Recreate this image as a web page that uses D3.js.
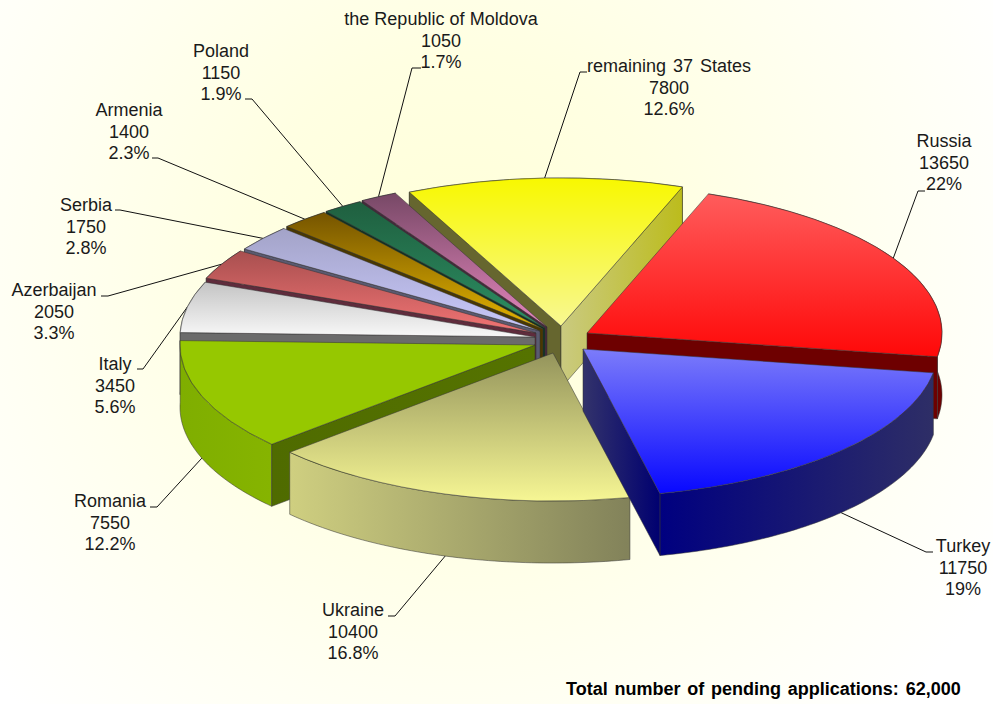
<!DOCTYPE html>
<html>
<head>
<meta charset="utf-8">
<script src="https://cdn.jsdelivr.net/npm/d3@7"></script>
<style>
  body { margin: 0; background: #fff; }
  text { font-family: "Liberation Sans", Arial, sans-serif; fill: #1a1a1a; }
</style>
</head>
<body>
<div id="chart"></div>
<script>
// data, clockwise from the Russia slice
var names = ["Russia", "Turkey", "Ukraine", "Romania", "Italy", "Azerbaijan", "Serbia", "Armenia", "Poland", "the Republic of Moldova", "remaining 37 States"];
var values = [13650, 11750, 10400, 7550, 3450, 2050, 1750, 1400, 1150, 1050, 7800];
var pctLabels = ["22%", "19%", "16.8%", "12.2%", "5.6%", "3.3%", "2.8%", "2.3%", "1.9%", "1.7%", "12.6%"];
var totalNote = "Total number of pending applications: 62,000";

// painter's order, back to front
var drawOrder = [10, 9, 8, 7, 6, 5, 4, 0, 3, 2, 1];

var width = 993, height = 704;
var center = {x: 545, y: 340};
var radius = 355, tilt = 0.417, depth = 62;

// how far each slice was pulled out of the pie (in pixels)
var explode = [[42, -7], [38, 9], [8, 13], [-10, 5], [-10, -3], [-9, -7], [-5, -9], [-2, -11], [0, -12], [2, -13], [16, -14]];

// top face, outer wall, start wall, end wall colours
var skins = [
  {top: ["#ff5c5c", "#ff0808"], outer: ["#6e0000", "#6e0000"], end: ["#6e0000", "#6e0000"]},
  {top: ["#7c7cfa", "#0808ff"], outer: ["#000080", "#2e2e66"], end: ["#33336b", "#000070"]},
  {top: ["#94945c", "#f6f694"], outer: ["#cfcf80", "#82825a"]},
  {top: ["#96c800", "#96c800"], outer: ["#7fae00", "#86b400"], start: ["#4f6b00", "#557300"]},
  {top: ["#c4c4c4", "#f8f8f8"], outer: ["#6b6b6b", "#6b6b6b"], start: ["#6b6b6b", "#6b6b6b"]},
  {top: ["#a84f4f", "#f27474"], outer: ["#5f2c3c", "#5f2c3c"], start: ["#5f2c3c", "#5f2c3c"]},
  {top: ["#a3a3c8", "#c8c8fa"], outer: ["#5a5a70", "#5a5a70"], start: ["#5a5a70", "#5a5a70"]},
  {top: ["#755400", "#e4b400"], outer: ["#4a3800", "#4a3800"], start: ["#4a3800", "#4a3800"]},
  {top: ["#1f5f3f", "#2c8f63"], outer: ["#0f3322", "#0f3322"], start: ["#0f3322", "#0f3322"]},
  {top: ["#774866", "#e486bd"], outer: ["#47283c", "#47283c"], start: ["#47283c", "#47283c"]},
  {top: ["#f8f800", "#f8f892"], outer: ["#66662f", "#66662f"], start: ["#66662f", "#66662f"], end: ["#caca80", "#bcbc1c"]}
];

// label centre x, first baseline, word gap, then the leader elbow and the stub end
var labelSpots = [
  {x: 944, y: 147, gap: 0, elbow: [918, 191], stub: [925, 191]},
  {x: 963, y: 552, gap: 0, elbow: [926, 552], stub: [933, 552]},
  {x: 353, y: 616, gap: 0, elbow: [395, 616], stub: [388, 616]},
  {x: 110, y: 507, gap: 0, elbow: [157, 507], stub: [150, 507]},
  {x: 115, y: 370, gap: 0, elbow: [143, 369], stub: [137, 369]},
  {x: 54, y: 296, gap: 0, elbow: [108, 296], stub: [101, 296]},
  {x: 86, y: 211, gap: 0, elbow: [120, 210], stub: [115, 210]},
  {x: 129, y: 116, gap: 0, elbow: [158, 158], stub: [152, 158]},
  {x: 221, y: 57, gap: 0, elbow: [252, 99], stub: [245, 99]},
  {x: 441, y: 25, gap: 0.2, elbow: [412, 68], stub: [421, 68]},
  {x: 669, y: 72, gap: 2, elbow: [580, 72], stub: [587, 72]}
];

var svg = d3.select("#chart")
  .append("svg")
    .attr("width", width)
    .attr("height", height);

var defs = svg.append("defs");

function addGradient(id, colors, vertical) {
  var g = defs.append("linearGradient")
    .attr("id", id)
    .attr("x1", 0).attr("y1", 0)
    .attr("x2", vertical ? 0 : 1).attr("y2", vertical ? 1 : 0);
  g.append("stop").attr("offset", "0%").attr("stop-color", colors[0]);
  g.append("stop").attr("offset", "100%").attr("stop-color", colors[1]);
  return "url(#" + id + ")";
}

// background glow
var glow = defs.append("radialGradient")
  .attr("id", "glow")
  .attr("gradientUnits", "userSpaceOnUse")
  .attr("cx", 460).attr("cy", 270).attr("r", 620);
glow.append("stop").attr("offset", "0%").attr("stop-color", "#ffffd8");
glow.append("stop").attr("offset", "35%").attr("stop-color", "#ffffe2");
glow.append("stop").attr("offset", "65%").attr("stop-color", "#fffff0");
glow.append("stop").attr("offset", "100%").attr("stop-color", "#ffffff");

svg.append("rect")
  .attr("width", width)
  .attr("height", height)
  .attr("fill", "url(#glow)");

// slice angles
var pie = d3.pie()
  .sort(null)
  .startAngle(20 * Math.PI / 180)
  .endAngle(380 * Math.PI / 180);
var slices = pie(values);

var rimX = d3.scaleLinear().domain([-1, 1]).range([-radius, radius]);
var rimY = d3.scaleLinear().domain([-1, 1]).range([-radius * tilt, radius * tilt]);

function apex(i) {
  return {x: center.x + explode[i][0], y: center.y + explode[i][1]};
}
function rimPoint(i, a) {
  var p = apex(i);
  return {x: p.x + rimX(Math.sin(a)), y: p.y + rimY(-Math.cos(a))};
}

var topArc = d3.arc().innerRadius(0).outerRadius(radius);
var wallArea = d3.area()
  .x(function (d) { return d.x; })
  .y0(function (d) { return d.y; })
  .y1(function (d) { return d.y + depth; });

function radialWall(i, a) {
  var p = apex(i), r = rimPoint(i, a);
  return "M" + p.x + "," + p.y + "L" + r.x + "," + r.y +
         "L" + r.x + "," + (r.y + depth) + "L" + p.x + "," + (p.y + depth) + "Z";
}

var pieGroup = svg.append("g")
  .attr("stroke", "#333")
  .attr("stroke-opacity", 0.75)
  .attr("stroke-width", 0.7)
  .attr("stroke-linejoin", "round");

// leaders sit under the slices
var leaders = svg.insert("g", "g")
  .attr("fill", "none")
  .attr("stroke", "#111")
  .attr("stroke-width", 1);

drawOrder.forEach(function (i) {
  var s = slices[i], skin = skins[i];
  var g = pieGroup.append("g");

  // outer curved wall
  var steps = d3.range(s.startAngle, s.endAngle, Math.PI / 180).concat([s.endAngle]);
  g.append("path")
    .attr("d", wallArea(steps.map(function (a) { return rimPoint(i, a); })))
    .attr("fill", addGradient("outer" + i, skin.outer));

  // the two cut faces, only those turned to the viewer
  if (Math.sin(s.startAngle) < 0 && skin.start) {
    g.append("path")
      .attr("d", radialWall(i, s.startAngle))
      .attr("fill", addGradient("start" + i, skin.start));
  }
  if (Math.sin(s.endAngle) > 0 && skin.end) {
    g.append("path")
      .attr("d", radialWall(i, s.endAngle))
      .attr("fill", addGradient("end" + i, skin.end));
  }

  // top face
  var p = apex(i);
  g.append("path")
    .attr("d", topArc({startAngle: s.startAngle, endAngle: s.endAngle}))
    .attr("transform", "translate(" + p.x + "," + p.y + ") scale(1," + tilt + ")")
    .attr("vector-effect", "non-scaling-stroke")
    .attr("fill", addGradient("top" + i, skin.top, true));
});

// leader lines and labels
slices.forEach(function (s, i) {
  var spot = labelSpots[i];
  var mid = (s.startAngle + s.endAngle) / 2;
  var r = rimPoint(i, mid);
  var front = Math.cos(mid) < 0;
  leaders.append("path")
    .attr("d", d3.line()([[r.x, r.y + (front ? depth : 0)], spot.elbow, spot.stub]));

  var t = svg.append("text")
    .attr("text-anchor", "middle")
    .attr("font-size", 18)
    .attr("word-spacing", spot.gap);
  [names[i], String(values[i]), pctLabels[i]].forEach(function (line, k) {
    t.append("tspan")
      .attr("x", spot.x)
      .attr("y", spot.y + k * 21.5)
      .text(line);
  });
});

svg.append("text")
  .attr("x", 566)
  .attr("y", 695)
  .attr("font-size", 18)
  .attr("font-weight", "bold")
  .attr("word-spacing", 1.8)
  .style("fill", "#000")
  .text(totalNote);
</script>
</body>
</html>
